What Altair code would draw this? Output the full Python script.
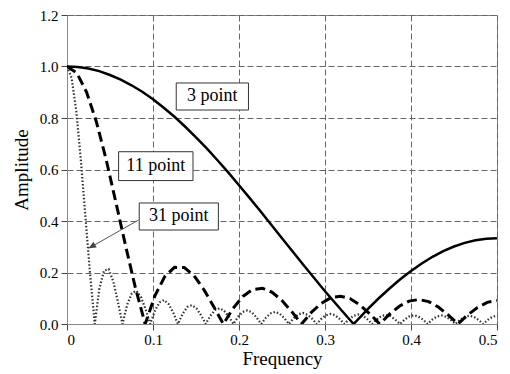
import altair as alt
import pandas as pd

# ---- data ----
freq3 = [0, 0.0125, 0.025, 0.0375, 0.05, 0.0625, 0.075, 0.0875, 0.1, 0.1125, 0.125, 0.1375,
         0.15, 0.1625, 0.175, 0.1875, 0.2, 0.2125,
         0.225, 0.25, 0.275, 0.3, 0.325, 0.3333,
         0.35, 0.3625, 0.375, 0.3875, 0.4, 0.4125, 0.425, 0.4375, 0.45, 0.4625, 0.475, 0.4875, 0.5]
amp3 = [1.0, 0.998, 0.992, 0.982, 0.967, 0.949, 0.927, 0.902, 0.873, 0.840, 0.805, 0.766,
        0.725, 0.682, 0.636, 0.589, 0.539, 0.489,
        0.438, 0.333, 0.229, 0.127, 0.031, 0.0,
        0.059, 0.100, 0.138, 0.174, 0.206, 0.235, 0.261, 0.283, 0.301, 0.315, 0.325, 0.331, 0.333]

freq11 = [0, 0.0114, 0.0227, 0.0341, 0.0455, 0.0568, 0.0682, 0.0795,
          0.0909, 0.1023, 0.1136, 0.1250, 0.1364, 0.1477, 0.1591, 0.1705,
          0.1818, 0.1932, 0.2045, 0.2159, 0.2273, 0.2386, 0.2500, 0.2614,
          0.2727, 0.2841, 0.2955, 0.3068, 0.3182, 0.3295, 0.3409, 0.3523,
          0.3636, 0.3750, 0.3864, 0.3977, 0.4091, 0.4205, 0.4318, 0.4432,
          0.4545, 0.4659, 0.4773, 0.4886, 0.5000]
amp11 = [1.0, 0.975, 0.901, 0.786, 0.639, 0.473, 0.303, 0.141,
         0.0, 0.110, 0.184, 0.220, 0.219, 0.188, 0.134, 0.068,
         0.0, 0.061, 0.107, 0.134, 0.139, 0.123, 0.091, 0.048,
         0.0, 0.045, 0.080, 0.102, 0.108, 0.098, 0.073, 0.039,
         0.0, 0.038, 0.069, 0.089, 0.095, 0.087, 0.066, 0.035,
         0.0, 0.035, 0.064, 0.084, 0.091]

freq31 = [0, 0.0054, 0.0108, 0.0161, 0.0215, 0.0269,
          0.0323, 0.0376, 0.0430, 0.0484, 0.0538, 0.0591,
          0.0645, 0.0699, 0.0753, 0.0806, 0.0860, 0.0914,
          0.0968, 0.1022, 0.1075, 0.1129, 0.1183, 0.1237,
          0.1290, 0.1344, 0.1398, 0.1452, 0.1505, 0.1559,
          0.1613, 0.1667, 0.1720, 0.1774, 0.1828, 0.1882,
          0.1935, 0.1989, 0.2043, 0.2097, 0.2151, 0.2204,
          0.2258, 0.2312, 0.2366, 0.2419, 0.2473, 0.2527,
          0.2581, 0.2634, 0.2688, 0.2742, 0.2796, 0.2849,
          0.2903, 0.2957, 0.3011, 0.3065, 0.3118, 0.3172,
          0.3226, 0.3280, 0.3333, 0.3387, 0.3441, 0.3495,
          0.3548, 0.3602, 0.3656, 0.3710, 0.3763, 0.3817,
          0.3871, 0.3925, 0.3978, 0.4032, 0.4086, 0.4140,
          0.4194, 0.4247, 0.4301, 0.4355, 0.4409, 0.4462,
          0.4516, 0.4570, 0.4624, 0.4677, 0.4731, 0.4785,
          0.4839, 0.4892, 0.4946, 0.5000]
amp31 = [1.0, 0.955, 0.827, 0.637, 0.414, 0.191,
         0.0, 0.137, 0.207, 0.213, 0.166, 0.087,
         0.0, 0.074, 0.119, 0.129, 0.105, 0.057,
         0.0, 0.051, 0.084, 0.093, 0.077, 0.043,
         0.0, 0.039, 0.066, 0.073, 0.061, 0.034,
         0.0, 0.032, 0.054, 0.061, 0.051, 0.029,
         0.0, 0.028, 0.047, 0.053, 0.045, 0.025,
         0.0, 0.024, 0.041, 0.047, 0.040, 0.023,
         0.0, 0.022, 0.037, 0.043, 0.036, 0.021,
         0.0, 0.020, 0.034, 0.039, 0.034, 0.019,
         0.0, 0.019, 0.032, 0.037, 0.032, 0.018,
         0.0, 0.018, 0.031, 0.035, 0.030, 0.017,
         0.0, 0.017, 0.029, 0.034, 0.029, 0.017,
         0.0, 0.017, 0.029, 0.033, 0.028, 0.016,
         0.0, 0.016, 0.028, 0.032, 0.028, 0.016,
         0.0, 0.016, 0.028, 0.032]

x_ticks = [0, 0.1, 0.2, 0.3, 0.4, 0.5]
y_ticks = [0.0, 0.2, 0.4, 0.6, 0.8, 1.0, 1.2]

# annotation boxes (data coordinates)
labels = ["3 point", "11 point", "31 point"]
box_x0 = [0.127, 0.060, 0.084]
box_x1 = [0.211, 0.1465, 0.176]
box_y0 = [0.831, 0.557, 0.365]
box_y1 = [0.936, 0.669, 0.470]
arrow_from = (0.0833, 0.404)
arrow_to = (0.0251, 0.294)

FONT = "Liberation Serif"

df3 = pd.DataFrame({"f": freq3, "a": amp3})
df11 = pd.DataFrame({"f": freq11, "a": amp11})
df31 = pd.DataFrame({"f": freq31, "a": amp31})
ann = pd.DataFrame({"label": labels, "x0": box_x0, "x1": box_x1, "y0": box_y0, "y1": box_y1})
ann["xc"] = (ann.x0 + ann.x1) / 2
ann["yc"] = (ann.y0 + ann.y1) / 2
arr = pd.DataFrame({"x": [arrow_from[0]], "y": [arrow_from[1]],
                    "x2": [arrow_to[0]], "y2": [arrow_to[1]]})

xs = alt.Scale(domain=[0, 0.5], nice=False, zero=False)
ys = alt.Scale(domain=[0, 1.2], nice=False)

xaxis = alt.Axis(values=x_ticks, title="Frequency", format="~g",
                 labelFont=FONT, labelFontSize=15, titleFont=FONT, titleFontSize=19,
                 labelPadding=2, titlePadding=2)
yaxis = alt.Axis(values=y_ticks, title="Amplitude", format=".1f",
                 labelFont=FONT, labelFontSize=15, titleFont=FONT, titleFontSize=19,
                 labelPadding=3, titlePadding=8)

X = alt.X("f:Q", scale=xs, axis=xaxis)
Y = alt.Y("a:Q", scale=ys, axis=yaxis)

l31 = alt.Chart(df31).mark_line(color="#333", strokeWidth=2.2, strokeDash=[1.5, 2], clip=True).encode(
    x=X, y=Y, order="f:Q")
l11 = alt.Chart(df11).mark_line(color="black", strokeWidth=3, strokeDash=[10, 5], clip=True).encode(
    x=alt.X("f:Q", scale=xs), y=alt.Y("a:Q", scale=ys), order="f:Q")
l3 = alt.Chart(df3).mark_line(color="black", strokeWidth=2.5, clip=True).encode(
    x=alt.X("f:Q", scale=xs), y=alt.Y("a:Q", scale=ys), order="f:Q")

boxes = alt.Chart(ann).mark_rect(fill="white", stroke="#333", strokeWidth=1).encode(
    x=alt.X("x0:Q", scale=xs), x2="x1:Q", y=alt.Y("y0:Q", scale=ys), y2="y1:Q")
texts = alt.Chart(ann).mark_text(font=FONT, fontSize=18, color="black", baseline="middle").encode(
    x=alt.X("xc:Q", scale=xs), y=alt.Y("yc:Q", scale=ys), text="label:N")

arrow_line = alt.Chart(arr).mark_rule(color="#555", strokeWidth=1).encode(
    x=alt.X("x:Q", scale=xs), y=alt.Y("y:Q", scale=ys), x2="x2:Q", y2="y2:Q")
arrow_head = alt.Chart(arr).mark_point(
    shape="M0,0L-0.45,1L0.45,1Z", filled=True, color="#444", opacity=1, size=220, angle=240.75
).encode(x=alt.X("x2:Q", scale=xs), y=alt.Y("y2:Q", scale=ys))

chart = alt.layer(l31, l11, l3, boxes, texts, arrow_line, arrow_head).properties(
    width=430, height=309,
    autosize=alt.AutoSizeParams(type="none"),
    padding={"left": 59, "top": 7, "right": 5, "bottom": 50},
).configure_view(
    stroke="#888", strokeWidth=1
).configure_axis(
    grid=True, gridColor="#666", gridDash=[6, 3], gridWidth=1,
    domainColor="#888", domainWidth=1,
    tickColor="#444", tickSize=6, tickWidth=1,
    labelFont=FONT, labelFontSize=15, labelColor="black",
    titleFont=FONT, titleFontSize=19, titleFontWeight="normal", titleColor="black",
)

chart.save("out.html", embed_options={"renderer": "svg", "actions": False})
